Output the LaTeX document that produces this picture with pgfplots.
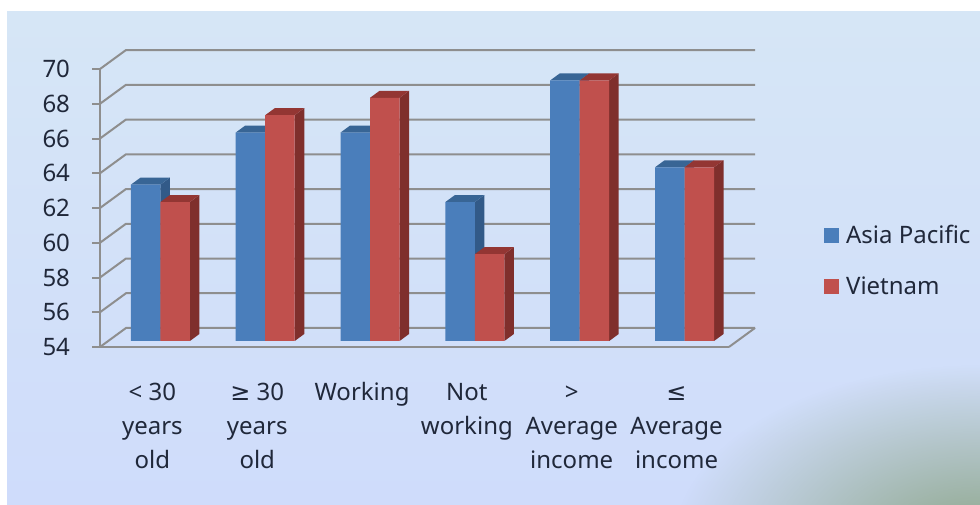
\documentclass[border=0pt]{standalone}
\usepackage{fontspec}
\setmainfont{Noto Sans}
\newfontfamily\symf{DejaVu Sans}
\usepackage{pgfplots}
\usepackage{pgfplotstable}
\pgfplotsset{compat=1.18}
\usetikzlibrary{fadings}

\definecolor{asia}{HTML}{4A7EBB}
\definecolor{asiatop}{HTML}{386595}
\definecolor{asiaside}{HTML}{325A88}
\definecolor{viet}{HTML}{C0504D}
\definecolor{viettop}{HTML}{933633}
\definecolor{vietside}{HTML}{7F2F2C}
\definecolor{gridc}{HTML}{8E8E8E}
\definecolor{inkc}{HTML}{20283A}
\definecolor{bgtop}{HTML}{D6E6F6}
\definecolor{bgbot}{HTML}{CFDCFB}
\definecolor{cornerc}{HTML}{8CA587}

\tikzfading[name=cornerfade, inner color=transparent!0, outer color=transparent!100]

\pgfplotstableread{
id asia vietnam
0  63   62
1  66   67
2  66   68
3  62   59
4  69   69
5  64   64
}\shares

% top and side faces of a bar, hung on its data point (1px = .75pt)
\pgfplotsset{depth faces/.style n args={2}{
    forget plot, scatter, only marks, mark=*, mark size=0pt, draw=none, fill=none,
    visualization depends on={rawy \as \val},
    scatter/@pre marker code/.code={
        \pgfmathsetmacro{\h}{(\val-54)*13.03}
        \fill[#2] (11.06pt,0pt) -- (18.2pt,5.25pt) -- (18.2pt,5.25pt-\h pt) -- (11.06pt,-\h pt) -- cycle;
        \fill[#1] (-11.06pt,0pt) -- (11.06pt,0pt) -- (18.2pt,5.25pt) -- (-3.9pt,5.25pt) -- cycle;
        \begingroup
    },
    scatter/@post marker code/.code={\endgroup},
}}

\begin{document}
\begin{tikzpicture}
\useasboundingbox (0,0) rectangle (735pt,378.75pt);
\fill[white] (0,0) rectangle (735pt,378.75pt);
\begin{scope}
\clip (5.25pt,0) rectangle (735pt,369.75pt);
\shade[top color=bgtop, bottom color=bgbot] (5.25pt,0) rectangle (735pt,369.75pt);
\fill[cornerc, path fading=cornerfade] (735pt,-30pt) ellipse (230pt and 135pt);
\end{scope}

\begin{axis}[
    at={(75pt,118.5pt)}, anchor=south west,
    x=78.62pt, y=13.03pt,
    xmin=-0.5, xmax=5.5, ymin=54, ymax=70,
    clip=false, clip mode=individual,
    axis x line=bottom, axis y line=left,
    axis line style={gridc, line width=1.5pt, -},
    xtick=data,
    xticklabels={{\strut< 30\\\strut years\\\strut old},{\strut{\symf ≥} 30\\\strut years\\\strut old},{\strut Working},{\strut Not\\\strut working},{\strut>\\\strut Average\\\strut income},{\strut{\symf ≤}\\\strut Average\\\strut income}},
    ytick={54,56,...,70},
    x tick style={draw=none},
    y tick style={gridc, line width=1.5pt},
    tick align=outside,
    major tick length=6pt,
    tick label style={font=\fontsize{18}{25.5}\selectfont, text=inkc, /pgf/number format/assume math mode=true},
    xticklabel style={align=center, anchor=north, yshift=-12.75pt},
    yticklabel style={xshift=-13pt},
    legend style={at={(1.145,0.31)}, anchor=west, draw=none, fill=none,
        font=\fontsize{18}{20}\selectfont, text=inkc, row sep=19pt,
        nodes={inner xsep=5pt}},
    legend cell align=left,
    legend image code/.code={\fill[#1] (0pt,-5.6pt) rectangle (11.25pt,5.6pt);},
]
\pgfplotsinvokeforeach{54,56,...,70}{
    \draw[gridc, line width=1.5pt] (axis cs:-0.5,#1) -- ++(19.5pt,14.25pt) -- ++(471.75pt,0pt);
}
\draw[gridc, line width=1.5pt] (axis cs:5.5,54) -- ++(19.5pt,14.25pt);

\addlegendimage{fill=asia, draw=none}
\addlegendimage{fill=viet, draw=none}

\addplot[depth faces={asiatop}{asiaside}, xshift=-5.06pt, yshift=4.5pt] table[x=id, y=asia] {\shares};
\addplot[ybar, forget plot, bar width=22.12pt, bar shift=-5.06pt, fill=asia, draw=none, yshift=4.5pt] table[x=id, y=asia] {\shares};
\addplot[depth faces={viettop}{vietside}, xshift=17.06pt, yshift=4.5pt] table[x=id, y=vietnam] {\shares};
\addplot[ybar, forget plot, bar width=22.12pt, bar shift=17.06pt, fill=viet, draw=none, yshift=4.5pt] table[x=id, y=vietnam] {\shares};
\legend{Asia Pacific,Vietnam}
\end{axis}
\end{tikzpicture}
\end{document}
